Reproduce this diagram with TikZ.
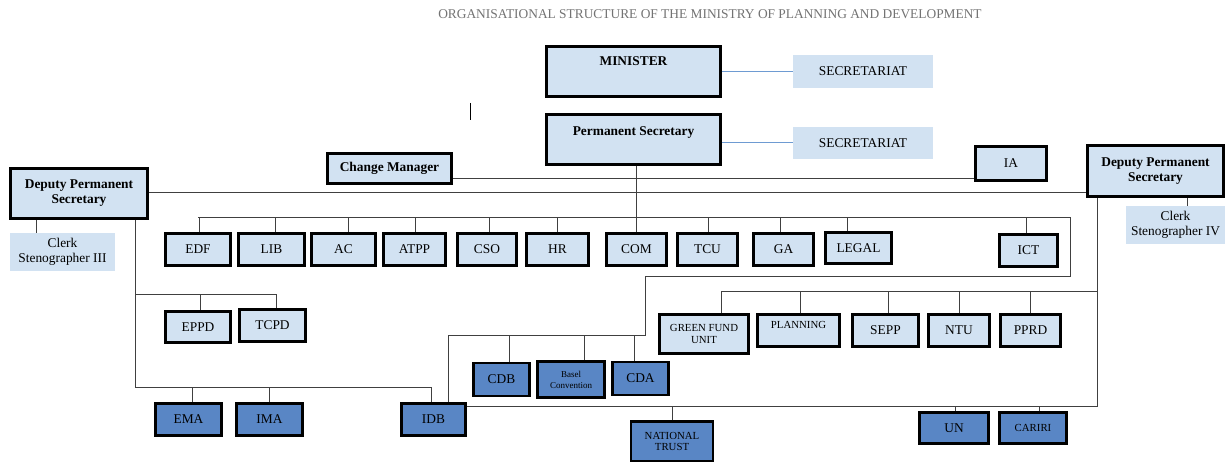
\documentclass[tikz,border=0pt]{standalone}
\usepackage{fontspec}
\setmainfont{Liberation Serif}
\definecolor{boxlight}{RGB}{210,226,242}
\definecolor{boxdark}{RGB}{89,134,197}
\definecolor{lineblue}{RGB}{110,155,210}

\begin{document}
\begin{tikzpicture}[x=1pt, y=-1pt,
    office/.style={draw, line width=2.6pt, fill=boxlight, inner sep=0pt,
        align=center, font=\fontsize{13.4}{15}\selectfont},
    boss/.style={office, font=\fontsize{13.4}{15}\selectfont\bfseries},
    agency/.style={office, fill=boxdark},
    staff/.style={fill=boxlight, inner sep=0pt, align=center,
        font=\fontsize{13.4}{15}\selectfont},
    smalltext/.style={font=\fontsize{10.8}{11.5}\selectfont},
    tinytext/.style={font=\fontsize{9}{11}\selectfont},
    link/.style={draw=black!75, line width=0.9pt},
    bluelink/.style={draw=lineblue, line width=1pt}]

    \fill[white] (0,0) rectangle (1225,462);
    \useasboundingbox (0,0) rectangle (1225,462);

%%   kw   (name)   (x, y)   {text}
    \node[text=black!55, font=\fontsize{13.4}{15}\selectfont] (title) at (710, 14)
        {ORGANISATIONAL STRUCTURE OF THE MINISTRY OF PLANNING AND DEVELOPMENT};

    \node[boss, minimum width=174pt, minimum height=50pt, text height=8.9pt, text depth=20pt]
        (minister) at (633.5, 71.5) {MINISTER};
    \node[staff, minimum width=140pt, minimum height=33pt] (sec1) at (863, 71.5) {SECRETARIAT};
    \node[boss, minimum width=174pt, minimum height=50pt, text height=8.9pt, text depth=17pt]
        (ps) at (633.5, 139.5) {Permanent Secretary};
    \node[staff, minimum width=140pt, minimum height=32pt] (sec2) at (863, 143) {SECRETARIAT};

    \node[boss, minimum width=124pt, minimum height=30pt] (cm) at (389.5, 168.5) {Change Manager};
    \node[office, minimum width=71pt, minimum height=34pt] (ia) at (1011, 163.5) {IA};
    \node[boss, minimum width=137pt, minimum height=50pt] (dpsl) at (79, 193.5) {Deputy Permanent\\Secretary};
    \node[boss, minimum width=136pt, minimum height=51pt] (dpsr) at (1155.5, 171) {Deputy Permanent\\Secretary};
    \node[staff, minimum width=105pt, minimum height=38pt] (cs3) at (62.5, 252) {Clerk\\Stenographer III};
    \node[staff, minimum width=99pt, minimum height=38pt] (cs4) at (1175.5, 225) {Clerk\\Stenographer IV};

    % units under the permanent secretary
    \node[office, minimum width=65pt, minimum height=32pt] (edf) at (198, 249.5) {EDF};
    \node[office, minimum width=66pt, minimum height=32pt] (lib) at (271.5, 249.5) {LIB};
    \node[office, minimum width=64pt, minimum height=32pt] (ac) at (343.5, 249.5) {AC};
    \node[office, minimum width=62pt, minimum height=32pt] (atpp) at (414.5, 249.5) {ATPP};
    \node[office, minimum width=59pt, minimum height=32pt] (cso) at (487, 249.5) {CSO};
    \node[office, minimum width=62pt, minimum height=32pt] (hr) at (557.5, 249.5) {HR};
    \node[office, minimum width=60pt, minimum height=32pt] (com) at (636.5, 249.5) {COM};
    \node[office, minimum width=60pt, minimum height=32pt] (tcu) at (707.5, 249.5) {TCU};
    \node[office, minimum width=60pt, minimum height=32pt] (ga) at (783.5, 249.5) {GA};
    \node[office, minimum width=66pt, minimum height=31pt] (legal) at (858.5, 248) {LEGAL};
    \node[office, minimum width=58pt, minimum height=32pt] (ict) at (1028.5, 250.5) {ICT};

    \node[office, minimum width=65pt, minimum height=31pt] (eppd) at (198, 327) {EPPD};
    \node[office, minimum width=66pt, minimum height=32pt] (tcpd) at (272.5, 325.5) {TCPD};

    \node[office, smalltext, minimum width=89pt, minimum height=39pt] (gfu) at (704, 334) {GREEN FUND\\UNIT};
    \node[office, smalltext, minimum width=82pt, minimum height=32pt, text height=7.2pt, text depth=12pt]
        (planning) at (798.5, 330.5) {PLANNING};
    \node[office, minimum width=66pt, minimum height=32pt] (sepp) at (885.5, 330.5) {SEPP};
    \node[office, minimum width=61pt, minimum height=32pt] (ntu) at (959, 330.5) {NTU};
    \node[office, minimum width=60pt, minimum height=32pt] (pprd) at (1030.5, 330.5) {PPRD};

    % agencies
    \node[agency, minimum width=56pt, minimum height=33pt] (cdb) at (501.5, 379.5) {CDB};
    \node[agency, tinytext, minimum width=67pt, minimum height=36pt] (basel) at (571, 379.5) {Basel\\Convention};
    \node[agency, minimum width=56pt, minimum height=33pt] (cda) at (640.5, 378.5) {CDA};
    \node[agency, minimum width=66pt, minimum height=32pt] (ema) at (188.5, 419.5) {EMA};
    \node[agency, minimum width=66pt, minimum height=32pt] (ima) at (269.5, 419.5) {IMA};
    \node[agency, minimum width=64pt, minimum height=32pt] (idb) at (433.5, 419.5) {IDB};
    \node[agency, smalltext, minimum width=82pt, minimum height=40pt] (nt) at (672, 441.5) {NATIONAL\\TRUST};
    \node[agency, minimum width=69pt, minimum height=31pt] (un) at (954, 428) {UN};
    \node[agency, smalltext, minimum width=67pt, minimum height=31pt] (cariri) at (1033, 428) {CARIRI};

    % bars and bends
    \coordinate (unitbar) at (0, 217);
    \coordinate (bendA) at (1070, 217);
    \coordinate (bendB) at (1070, 276);
    \coordinate (bendC) at (645, 276);
    \coordinate (cdbbar) at (645, 335);
    \coordinate (eppdbar) at (0, 294);
    \coordinate (leftbar) at (0, 387);
    \coordinate (gfubar) at (0, 291);
    \coordinate (lowbar) at (0, 406);
    \coordinate (cmia) at (0, 178);
    \coordinate (dpsline) at (0, 192);
    \coordinate (dplfoot) at ([xshift=56pt]dpsl.south);
    \coordinate (dprfoot) at ([xshift=-58.5pt]dpsr.south);
    \coordinate (idbleft) at ([xshift=-2pt]idb.north);
    \coordinate (idbright) at ([xshift=14.5pt]idb.north);

    \draw[bluelink] (minister.east) -- (sec1.west);
    \draw[bluelink] (ps.east |- sec2.west) -- (sec2.west);
    \draw[line width=0.8pt] (470, 103) -- (470, 120);

    \draw[link] (cm.east |- cmia) -- (ia.west |- cmia);
    \draw[link] (dpsl.east |- dpsline) -- (dpsr.west |- dpsline);
    \draw[link] ([xshift=-26.5pt]cs3.north) -- ([xshift=-26.5pt]cs3.north |- dpsl.south);
    \draw[link] ([xshift=11.5pt]cs4.north) -- ([xshift=11.5pt]cs4.north |- dpsr.south);

    \draw[link] (ps.south -| com.north) -- (com.north);
    \draw[link] (edf.north |- unitbar) -- (bendA) -- (bendB) -- (bendC) -- (cdbbar)
        -- (idbright |- cdbbar) -- (idbright);
    \foreach \u/\dx in {edf/1, lib/4, ac/5, atpp/1, cso/2, hr/0, tcu/1, ga/-3, legal/-11, ict/-2}
        \draw[link] ([xshift=\dx pt]\u.north) -- ([xshift=\dx pt]\u.north |- unitbar);
    \foreach \u/\dx in {cdb/7.5, basel/13, cda/-6.5}
        \draw[link] ([xshift=\dx pt]\u.north) -- ([xshift=\dx pt]\u.north |- cdbbar);

    \draw[link] (dpsl.south -| dplfoot) -- (dplfoot |- leftbar) -- (idbleft |- leftbar) -- (idbleft);
    \draw[link] (dplfoot |- eppdbar) -- ([xshift=3.5pt]tcpd.north |- eppdbar) -- ([xshift=3.5pt]tcpd.north);
    \draw[link] ([xshift=2pt]eppd.north) -- ([xshift=2pt]eppd.north |- eppdbar);
    \draw[link] ([xshift=4pt]ema.north) -- ([xshift=4pt]ema.north |- leftbar);
    \draw[link] (ima.north) -- (ima.north |- leftbar);

    \draw[link] (idb.east |- lowbar) -- (dprfoot |- lowbar) -- (dprfoot);
    \draw[link] ([xshift=17pt]gfu.north |- gfubar) -- (dprfoot |- gfubar);
    \foreach \u/\dx in {gfu/17, planning/1.5, sepp/2.5, ntu/0, pprd/0}
        \draw[link] ([xshift=\dx pt]\u.north) -- ([xshift=\dx pt]\u.north |- gfubar);
    \foreach \u/\dx in {nt/0, un/1, cariri/6}
        \draw[link] ([xshift=\dx pt]\u.north) -- ([xshift=\dx pt]\u.north |- lowbar);
\end{tikzpicture}
\end{document}
